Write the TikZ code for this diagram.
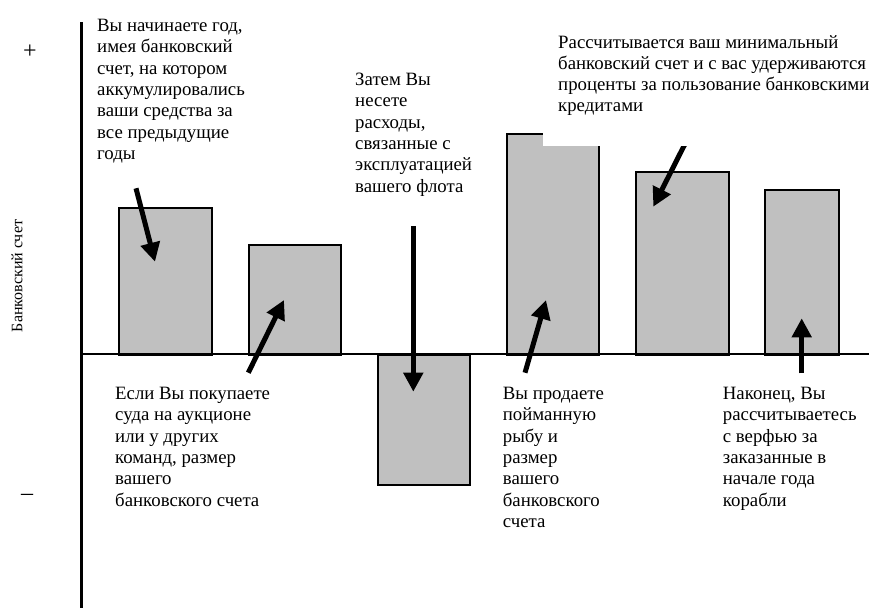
\documentclass[tikz,border=0pt]{standalone}
\usepackage{fontspec}
\setmainfont{Liberation Serif}
\usetikzlibrary{arrows.meta}
\definecolor{barg}{RGB}{192,192,192}
\begin{document}
\begin{tikzpicture}[x=1pt,y=-1pt,
  bar/.style={draw=black, line width=2pt, fill=barg, inner sep=0pt, anchor=north west},
  arr/.style={line width=5pt, -{Triangle[length=19pt,width=19pt]}},
  txt/.style={anchor=north west, inner sep=0pt, align=left, font=\fontsize{18.8}{21.3}\selectfont},
  sign/.style={font=\fontsize{24}{26}\selectfont, inner sep=0pt},
  axis/.style={line width=2.2pt}]
\useasboundingbox (0,0) rectangle (869,608);
% bars
\node[bar, minimum width=92.7pt, minimum height=147.3pt] (b1) at (118.3,206.7) {};
\node[bar, minimum width=92.3pt, minimum height=110pt] (b2) at (247.7,244) {};
\node[bar, minimum width=92pt, minimum height=130pt] (b3) at (377.3,354) {};
\node[bar, minimum width=92pt, minimum height=220.7pt] (b4) at (505.7,133.3) {};
\node[bar, minimum width=92.7pt, minimum height=183.3pt] (b5) at (635,170.7) {};
\node[bar, minimum width=74.3pt, minimum height=165pt] (b6) at (763.7,189) {};
% axes
\coordinate (o) at (81.5,354);
\coordinate (ytop) at (81.5,22);
\coordinate (ybot) at (81.5,608);
\coordinate (xend) at (869,354);
\draw[axis] (ytop) -- (ybot);
\draw[axis] (o) -- (xend);
\node[sign] (plus) at (30,52) {+};
\node[sign] (minus) at (27,497) {–};
\node[rotate=90, font=\fontsize{16}{19}\selectfont] (ylab) at (17,276) {Банковский счет};
% arrows
\coordinate (a1s) at (136,188.3); \coordinate (a1e) at (155,261.7);
\coordinate (a2s) at (248.3,372.7); \coordinate (a2e) at (284,300);
\coordinate (a3s) at (413.3,226); \coordinate (a3e) at (413.3,391.7);
\coordinate (a4s) at (525,372.7); \coordinate (a4e) at (546,300);
\coordinate (a5s) at (690,134); \coordinate (a5e) at (653.3,206.7);
\coordinate (a6s) at (801.7,373.3); \coordinate (a6e) at (801.7,318.3);
\draw[arr] (a1s) -- (a1e);
\draw[arr] (a2s) -- (a2e);
\draw[arr] (a3s) -- (a3e);
\draw[arr] (a4s) -- (a4e);
\draw[arr] (a5s) -- (a5e);
\draw[arr] (a6s) -- (a6e);
% white text box covering bar 4 corner
\fill[white] (543,60) rectangle (869,145.7);
% texts
\node[txt] (t1) at (97,19) {Вы начинаете год,\\имея банковский\\счет, на котором\\аккумулировались\\ваши средства за\\все предыдущие\\годы};
\node[txt] (t2) at (355,73) {Затем Вы\\несете\\расходы,\\связанные с\\эксплуатацией\\вашего флота};
\node[txt] (t3) at (558,35) {Рассчитывается ваш минимальный\\банковский счет и с вас удерживаются\\проценты за пользование банковскими\\кредитами};
\node[txt] (t4) at (115,387) {Если Вы покупаете\\суда на аукционе\\или у других\\команд, размер\\вашего\\банковского счета};
\node[txt] (t5) at (502.7,387) {Вы продаете\\пойманную\\рыбу и\\размер\\вашего\\банковского\\счета};
\node[txt] (t6) at (722.7,387) {Наконец, Вы\\рассчитываетесь\\с верфью за\\заказанные в\\начале года\\корабли};
\end{tikzpicture}
\end{document}
